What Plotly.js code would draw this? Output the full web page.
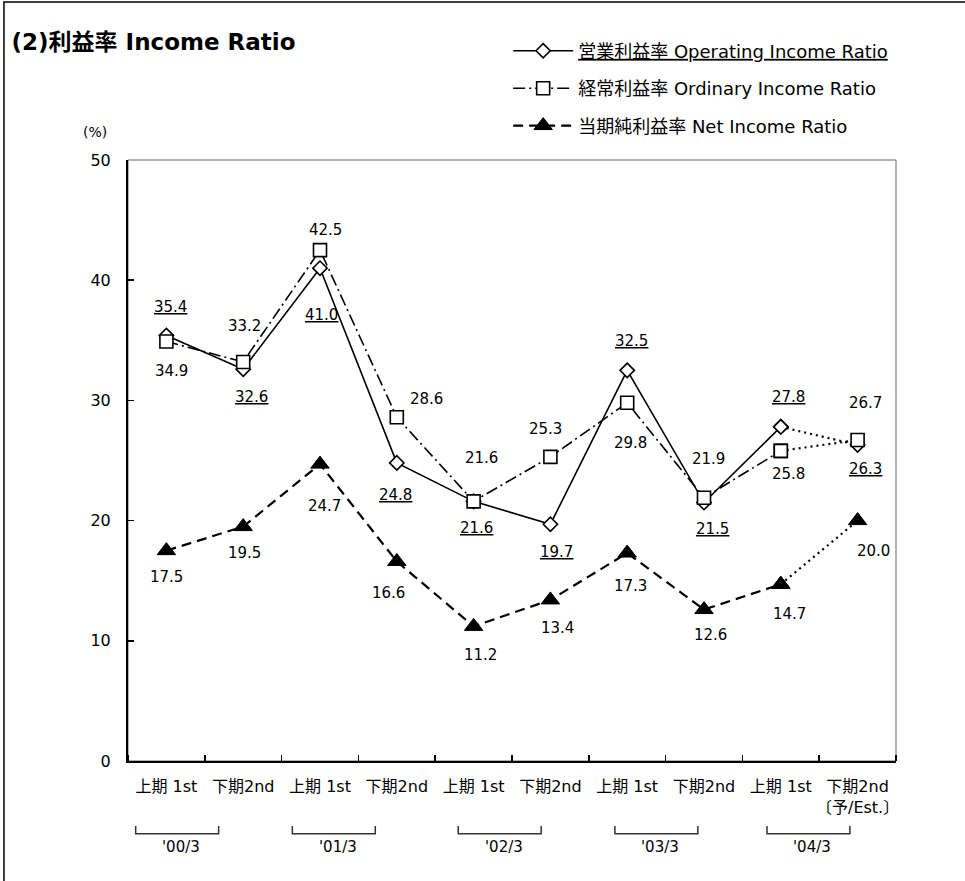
<!DOCTYPE html>
<html>
<head>
<meta charset="utf-8">
<script src="https://cdn.plot.ly/plotly-3.0.1.min.js"></script>
<style>html,body{margin:0;padding:0;background:#fff;}#chart{width:965px;height:881px;}</style>
</head>
<body>
<div id="chart"></div>
<script>
// ---- data ----
const halfLabels = ["上期 1st","下期2nd","上期 1st","下期2nd","上期 1st","下期2nd","上期 1st","下期2nd","上期 1st","下期2nd<br>〔予/Est.〕"];
const periods = ["'00/3","'01/3","'02/3","'03/3","'04/3"];
const operating = [35.4, 32.6, 41.0, 24.8, 21.6, 19.7, 32.5, 21.5, 27.8, 26.3];
const ordinary  = [34.9, 33.2, 42.5, 28.6, 21.6, 25.3, 29.8, 21.9, 25.8, 26.7];
const netIncome = [17.5, 19.5, 24.7, 16.6, 11.2, 13.4, 17.3, 12.6, 14.7, 20.0];
const seriesNames = ["営業利益率 Operating Income Ratio","経常利益率 Ordinary Income Ratio","当期純利益率 Net Income Ratio"];

// ---- label offsets (px) : style only ----
const opShift  = [[4,28],[8,-28],[1,-47],[-1,-32],[3,-27],[6,-28],[4,29],[8,-26],[8,30],[8,-24]];
const ordShift = [[5,-29],[1,36],[5,20],[30,18],[8,43],[-5,28],[3,-40],[4,39],[8,-23],[8,37]];
const netShift = [[0,-26],[1,-26],[4,-42],[-8,-32],[7,-29],[7,-28],[3,-33],[6,-25],[9,-30],[16,-30]];
// bracket extents in category units (decoration)
const bracketStart = [-0.40, 1.64, 3.80, 5.84, 7.82];
const bracketWidth = 1.08;

const xIdx = halfLabels.map((_, i) => i);
const nMain = xIdx.length - 1; // last point is estimate (dotted)

const LAT = "DejaVu Sans, Noto Sans CJK JP, sans-serif";

function seriesTraces(vals, name, rank, lineStyle, marker) {
  const est = {
    x: xIdx.slice(nMain - 1), y: vals.slice(nMain - 1),
    mode: 'lines+markers', type: 'scatter', showlegend: false, hoverinfo: 'skip',
    line: {color: '#000', width: 2.2, dash: '2px,4px'}, marker: marker
  };
  const main = {
    x: xIdx.slice(0, nMain), y: vals.slice(0, nMain), name: name,
    mode: 'lines+markers', type: 'scatter', legendrank: rank, legendgroup: 'g' + rank,
    line: lineStyle, marker: marker
  };
  return [est, main];
}

const traces = [].concat(
  seriesTraces(netIncome, seriesNames[2], 3,
    {color: '#000', width: 2.2, dash: '10px,6px'},
    {symbol: 'triangle-up', size: 16, color: '#000', line: {color: '#000', width: 1}}),
  seriesTraces(operating, '<u>' + seriesNames[0] + '</u>', 1,
    {color: '#000', width: 1.6},
    {symbol: 'diamond', size: 11, color: '#fff', line: {color: '#000', width: 1.6}}),
  seriesTraces(ordinary, seriesNames[1], 2,
    {color: '#000', width: 1.6, dash: '12px,4px,2px,4px'},
    {symbol: 'square', size: 13, color: '#fff', line: {color: '#000', width: 1.6}})
);

const annotations = [];
function addLabels(vals, shifts, underline) {
  vals.forEach((v, i) => {
    const t = v.toFixed(1);
    annotations.push({
      x: xIdx[i], y: v, xref: 'x', yref: 'y', showarrow: false,
      text: underline ? '<u>' + t + '</u>' : t,
      xshift: shifts[i][0], yshift: shifts[i][1],
      font: {family: LAT, size: 15, color: '#000'}
    });
  });
}
addLabels(operating, opShift, true);
addLabels(ordinary, ordShift, false);
addLabels(netIncome, netShift, false);

// (%) unit label
annotations.push({xref: 'paper', yref: 'paper', x: -0.043, xanchor: 'center', y: 1.046, yanchor: 'middle',
  text: '(%)', showarrow: false, font: {family: LAT, size: 14, color: '#000'}});

// period brackets
const shapes = [];
const yTop = -0.108, yBot = -0.121;
periods.forEach((p, g) => {
  const x0 = bracketStart[g], x1 = bracketStart[g] + bracketWidth;
  shapes.push({type: 'path', xref: 'x', yref: 'paper',
    path: `M ${x0},${yTop} L ${x0},${yBot} L ${x1},${yBot} L ${x1},${yTop}`,
    line: {color: '#333', width: 1.5}});
  annotations.push({xref: 'x', yref: 'paper', x: (x0 + x1) / 2 + 0.05, y: -0.143, yanchor: 'middle',
    text: p, showarrow: false, font: {family: LAT, size: 15, color: '#000'}});
});
// plot area frame
shapes.push({type: 'rect', xref: 'paper', yref: 'paper', x0: 0, x1: 1, y0: 0, y1: 1,
  line: {color: '#666', width: 1}, layer: 'below'});
// outer figure frame
shapes.push({type: 'rect', xref: 'paper', yref: 'paper', x0: -0.1615, x1: 1.3, y0: -0.5, y1: 1.2629,
  line: {color: '#000', width: 1.5}, layer: 'below'});

const layout = {
  width: 965, height: 881,
  margin: {l: 128, r: 69, t: 160, b: 120},
  paper_bgcolor: '#fff', plot_bgcolor: '#fff',
  title: {text: '<b>(2)利益率 Income Ratio</b>', x: 0.012, xanchor: 'left', y: 0.952, yanchor: 'middle',
    font: {family: LAT, size: 23, color: '#000'}},
  showlegend: true,
  legend: {x: 0.495, xanchor: 'left', y: 1.212, yanchor: 'top', bgcolor: 'rgba(0,0,0,0)',
    font: {family: LAT, size: 18, color: '#000'}, tracegroupgap: 11, itemwidth: 60},
  xaxis: {
    range: [-0.5, 9.5], tickmode: 'array', tickvals: xIdx, ticktext: halfLabels,
    ticks: '', showgrid: false, zeroline: false, showline: true, linecolor: '#000', linewidth: 2,
    minor: {tick0: 0.5, dtick: 1, ticks: 'inside', ticklen: 6, tickcolor: '#000', tickwidth: 1.5, showgrid: false},
    tickfont: {family: LAT, size: 16, color: '#000'}, ticklabelstandoff: 10, fixedrange: true
  },
  yaxis: {
    range: [0, 50], tickvals: [0, 10, 20, 30, 40, 50], ticks: 'inside', ticklen: 6, tickwidth: 1.5,
    tickcolor: '#000', showgrid: false, zeroline: false, showline: true, linecolor: '#000', linewidth: 2,
    tickfont: {family: LAT, size: 16, color: '#000'}, ticklabelstandoff: 12, fixedrange: true
  },
  annotations: annotations,
  shapes: shapes
};

Plotly.newPlot('chart', traces, layout, {displayModeBar: false, staticPlot: true});
</script>
</body>
</html>
